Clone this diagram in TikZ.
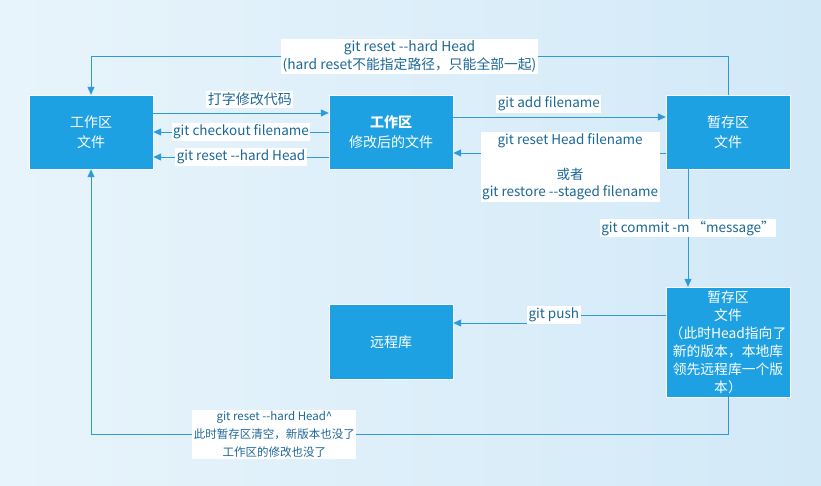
\documentclass[tikz,border=0pt]{standalone}
\usepackage{fontspec}
\newfontfamily\cjkfont{Noto Sans CJK SC}
\usetikzlibrary{arrows.meta}
\definecolor{boxblue}{RGB}{29,161,226}
\definecolor{lineblue}{RGB}{45,155,217}
\definecolor{textblue}{RGB}{28,104,150}
\definecolor{bgleft}{RGB}{232,244,251}
\definecolor{bgright}{RGB}{210,233,248}
\tikzstyle{area}=[draw=white, fill=boxblue, text=white, minimum width=124pt, minimum height=74pt, align=center, inner sep=0pt, font=\cjkfont\fontsize{14}{20}\selectfont]
\tikzstyle{cmd}=[fill=white, text=textblue, align=center, inner sep=1.5pt, font=\cjkfont\fontsize{13.5}{17.5}\selectfont]
\tikzstyle{flow}=[draw=lineblue, line width=1pt, -{Triangle[length=8pt,width=7pt]}]

\begin{document}
\begin{tikzpicture}[x=1pt, y=-1pt]
% Background
    \shade[left color=bgleft, right color=bgright] (0,0) rectangle (821,485);
    \useasboundingbox (0,0) rectangle (821,485);
% Areas
    \node[area] (work) at (91,132) {工作区\\文件};
    \node[area] (edited) at (391,132) {{\bfseries 工作区}\\修改后的文件};
    \node[area] (stage) at (728,132) {暂存区\\文件};
    \node[area, minimum height=110pt, font=\cjkfont\fontsize{13.8}{18}\selectfont] (commit) at (728,342)
        {暂存区\\文件\\（此时Head指向了\\新的版本，本地库\\领先远程库一个版\\本）};
    \node[area, minimum height=75pt] (remote) at (391,342) {远程库};
% Work area and edits
    \draw[flow] ([yshift=19pt]work.east) -- node[cmd, pos=0.55, above=5pt, font=\cjkfont\fontsize{14}{17.5}\selectfont] {打字修改代码} ([yshift=19pt]edited.west);
    \draw[flow] (edited.west) -- node[cmd] {git checkout filename} (work.west -| work.east);
    \draw[flow] ([yshift=-25pt]edited.east -| edited.west) -- node[cmd] {git reset --hard Head} ([yshift=-25pt]work.east);
% Staging
    \draw[flow] ([yshift=15pt]edited.east) -- node[cmd, pos=0.45, above=4pt] {git add filename} ([yshift=15pt]stage.west);
    \draw[flow] ([yshift=-21pt]stage.west) -- node[cmd, pos=0.45, yshift=-14pt, minimum width=178pt]
        {git reset Head filename\\[17pt]或者\\git restore --staged filename} ([yshift=-21pt]edited.east);
    \draw[flow] (stage.north) |- node[cmd, pos=0.75, font=\cjkfont\fontsize{13.8}{18}\selectfont] {git reset --hard Head\\(hard reset不能指定路径，只能全部一起)}
        ([yshift=38pt]work.north) -- (work.north);
% Commit and push
    \draw[flow] ([xshift=-40pt]stage.south) -- node[cmd] {git commit -m “message”} ([xshift=-40pt]commit.north);
    \draw[flow] ([yshift=27pt]commit.west) -- ++(-112,0) node[cmd] {git push} |- ([yshift=19pt]remote.east);
    \draw[flow] (commit.south) |- node[cmd, pos=0.856, font=\cjkfont\fontsize{11.5}{18}\selectfont]
        {git reset --hard Head\textasciicircum\\此时暂存区清空，新版本也没了\\工作区的修改也没了}
        ([yshift=-265pt]work.south) -- (work.south);
\end{tikzpicture}
\end{document}
